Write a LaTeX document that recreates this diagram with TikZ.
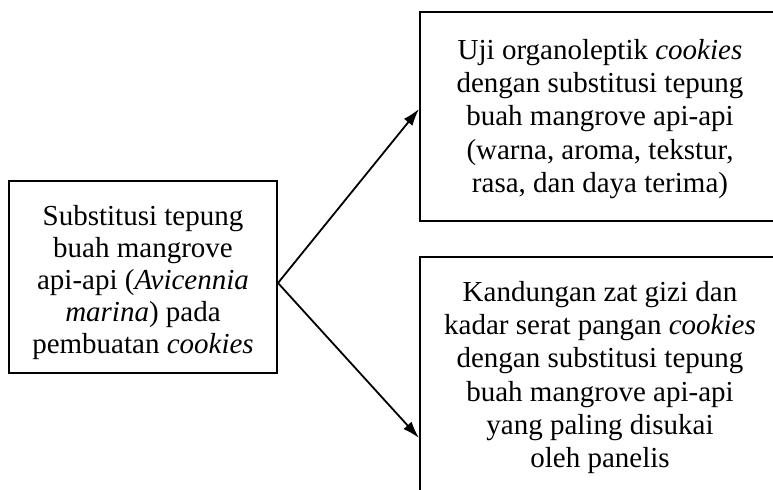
\documentclass[tikz,border=0pt]{standalone}
\usepackage{fontspec}
\setmainfont{Liberation Serif}
\usetikzlibrary{arrows.meta, positioning}

\begin{document}
\begin{tikzpicture}[x=0.5pt, y=-0.5pt,
        box/.style={rectangle, draw, line width=1pt, inner sep=0pt},
        txt/.style={align=center, inner sep=0pt, font=\fontsize{14.5}{16.6}\selectfont},
        conn/.style={line width=0.9pt, -{Latex[length=8.5pt,width=5.5pt]}}]
        \clip (0,0) rectangle (773,490);

        \node[box, minimum width=134pt, minimum height=96pt] (sub) at (143,277) {};
        \node[box, minimum width=180pt, minimum height=104.5pt] (uji) at (600,116.5) {};
        \node[box, minimum width=180pt, minimum height=121.5pt] (gizi) at (600,378.5) {};

        \node[txt, below=12.5pt of sub.north, font=\fontsize{14.5}{16}\selectfont] (subtext)
            {Substitusi tepung\\ buah mangrove\\ api-api (\textit{Avicennia}\\ \textit{marina}) pada\\ pembuatan \textit{cookies}};
        \node[txt, below=14pt of uji.north] (ujitext)
            {Uji organoleptik \textit{cookies}\\ dengan substitusi tepung\\ buah mangrove api-api\\ (warna, aroma, tekstur,\\ rasa, dan daya terima)};
        \node[txt, below=12.5pt of gizi.north] (gizitext)
            {Kandungan zat gizi dan\\ kadar serat pangan \textit{cookies}\\ dengan substitusi tepung\\ buah mangrove api-api\\ yang paling disukai\\ oleh panelis};

        \draw[conn] ([yshift=-3pt]sub.east) -- ([yshift=3.75pt]uji.west);
        \draw[conn] ([yshift=-3pt]sub.east) -- ([yshift=-29.75pt]gizi.west);
    \end{tikzpicture}
\end{document}
